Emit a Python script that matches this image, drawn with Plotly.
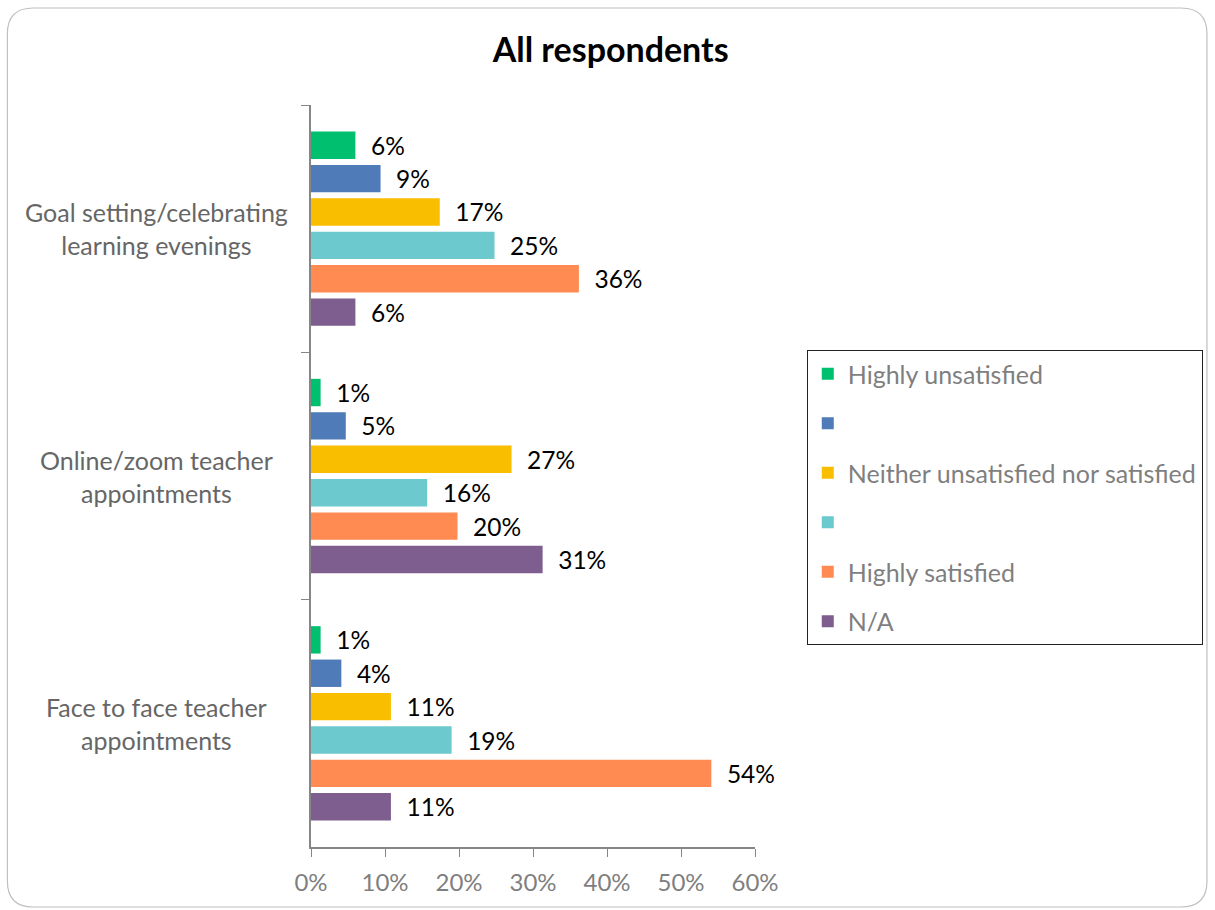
import plotly.graph_objects as go

categories = ["Goal setting/celebrating<br>learning evenings",
              "Online/zoom teacher<br>appointments",
              "Face to face teacher<br>appointments"]
series_names = ["Highly unsatisfied", "", "Neither unsatisfied nor satisfied", "", "Highly satisfied", "N/A"]
highly_unsatisfied = [0.060, 0.013, 0.013]
unsatisfied = [0.094, 0.047, 0.041]
neither = [0.174, 0.271, 0.108]
satisfied = [0.248, 0.157, 0.190]
highly_satisfied = [0.362, 0.198, 0.541]
not_applicable = [0.060, 0.313, 0.108]
colors = ["#00BF6F", "#4F7BB8", "#F9BE00", "#6CC9CD", "#FF8B52", "#7D5E8E"]
x_ticks = [0, 0.1, 0.2, 0.3, 0.4, 0.5, 0.6]

series = [highly_unsatisfied, unsatisfied, neither, satisfied, highly_satisfied, not_applicable]

FONT = "Lato"
W, H = 1215, 910
L, R, T, B = 311, 458, 105, 63
pw, ph = W - L - R, H - T - B

def px_to_paper(x, y):
    return (x - L) / pw, (H - B - y) / ph

fig = go.Figure()
for i, (name, vals, col) in enumerate(zip(series_names, series, colors)):
    fig.add_trace(go.Bar(
        y=categories, x=vals, name=name, orientation="h",
        marker=dict(color=col, line=dict(width=0)),
        texttemplate="\u00a0\u00a0%{x:.0%}", textposition="outside",
        textfont=dict(family=FONT, size=24.5, color="#000000"),
        constraintext="none", cliponaxis=False,
        legendgroup=f"g{i}",
    ))

# category labels, centered
for c in categories:
    fig.add_annotation(x=px_to_paper(156, 0)[0], xref="paper", y=c, yref="y",
                       text=c, showarrow=False, xanchor="center", align="center",
                       font=dict(family=FONT, size=25, color="#666666"))

# outer rounded border
x0, y0, x1, y1, r = 6, 8, 1211, 907, 26
def P(x, y):
    a, b = px_to_paper(x, y)
    return f"{a:.5f},{b:.5f}"
path = (f"M {P(x0 + r, y0)} L {P(x1 - r, y0)} Q {P(x1, y0)} {P(x1, y0 + r)} "
        f"L {P(x1, y1 - r)} Q {P(x1, y1)} {P(x1 - r, y1)} L {P(x0 + r, y1)} "
        f"Q {P(x0, y1)} {P(x0, y1 - r)} L {P(x0, y0 + r)} Q {P(x0, y0)} {P(x0 + r, y0)} Z")
fig.add_shape(type="path", path=path, xref="paper", yref="paper",
              line=dict(color="#BFBFBF", width=1.2), layer="below")

lx, ly = px_to_paper(809, 350)
fig.update_layout(
    width=W, height=H,
    margin=dict(l=L, r=R, t=T, b=B),
    paper_bgcolor="white", plot_bgcolor="white",
    barmode="group", bargap=0.19, bargroupgap=0.18,
    title=dict(text="<b>All respondents</b>", x=px_to_paper(612, 0)[0], xref="paper",
               xanchor="center", y=1 - 50 / H, yanchor="middle",
               font=dict(family=FONT, size=34, color="#000000")),
    font=dict(family=FONT),
    showlegend=True,
    legend=dict(x=lx, y=ly, xanchor="left", yanchor="top",
                bordercolor="#222222", borderwidth=1, bgcolor="white",
                font=dict(family=FONT, size=25, color="#7F7F7F"),
                traceorder="grouped", tracegroupgap=14, itemwidth=30),
    xaxis=dict(range=[0, 0.6], tickvals=x_ticks, tickformat=".0%",
               showgrid=False, zeroline=False, showline=True, linecolor="#868686",
               linewidth=1.5, ticks="outside", ticklen=8, tickcolor="#868686",
               ticklabelstandoff=5,
               tickfont=dict(family=FONT, size=24, color="#7F7F7F")),
    yaxis=dict(autorange="reversed", showticklabels=False, showgrid=False,
               zeroline=False, showline=True, linecolor="#868686", linewidth=1.5,
               ticks="outside", ticklen=8, tickcolor="#868686", tickson="boundaries"),
)

fig.write_html("out.html", config={"displayModeBar": False},
               post_script="document.body.style.margin='0';")
